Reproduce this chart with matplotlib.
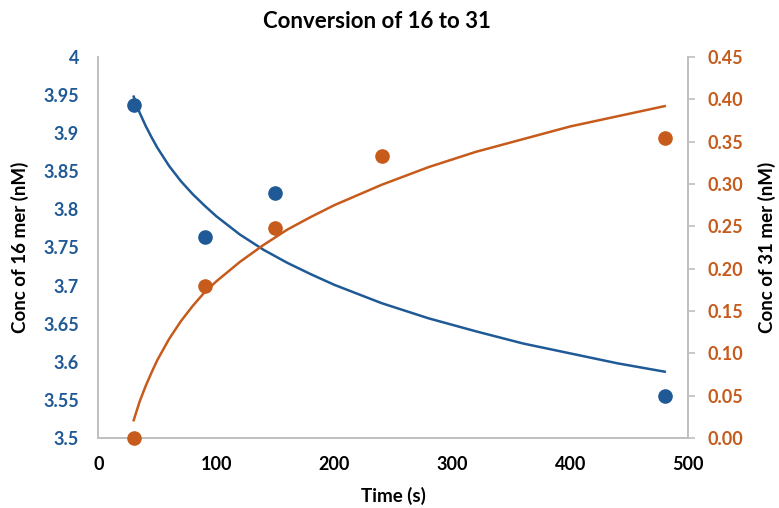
import matplotlib
matplotlib.use("Agg")
import matplotlib.pyplot as plt

# measured points
t_16 = [30, 90, 150, 480]
c_16 = [3.937, 3.764, 3.822, 3.555]
t_31 = [30, 90, 150, 240, 480]
c_31 = [0.000, 0.179, 0.248, 0.333, 0.354]

# trendlines
t_fit = [30, 35, 40, 45, 50, 60, 70, 80, 90, 100, 120, 140, 160, 180, 200,
         240, 280, 320, 360, 400, 440, 480]
fit_16 = [3.948, 3.927, 3.910, 3.895, 3.881, 3.857, 3.837, 3.820, 3.805, 3.791, 3.767,
          3.747, 3.730, 3.715, 3.701, 3.677, 3.657, 3.640, 3.624, 3.611, 3.598, 3.587]
fit_31 = [0.021, 0.043, 0.061, 0.077, 0.092, 0.117, 0.138, 0.156, 0.172, 0.185, 0.208,
          0.228, 0.246, 0.261, 0.275, 0.299, 0.320, 0.338, 0.353, 0.368, 0.380, 0.392]

left_ticks = [3.5, 3.55, 3.6, 3.65, 3.7, 3.75, 3.8, 3.85, 3.9, 3.95, 4]
left_labels = ["3.5", "3.55", "3.6", "3.65", "3.7", "3.75", "3.8", "3.85", "3.9", "3.95", "4"]
right_ticks = [0.0, 0.05, 0.10, 0.15, 0.20, 0.25, 0.30, 0.35, 0.40, 0.45]
x_ticks = [0, 100, 200, 300, 400, 500]

BLUE = "#1F5A96"
ORANGE = "#C65B1C"
GRID = "#BFBFBF"
plt.rcParams["font.family"] = ["Lato", "DejaVu Sans"]
plt.rcParams["font.weight"] = "bold"

fig = plt.figure(figsize=(7.79, 5.08), dpi=100)
ax = fig.add_axes([0.1262, 0.1378, 0.7574, 0.75])
ax2 = ax.twinx()

ax.plot(t_fit, fit_16, color=BLUE, lw=1.8, zorder=2)
ax.plot(t_16, c_16, "o", color=BLUE, ms=9.5, zorder=3)
ax2.plot(t_fit, fit_31, color=ORANGE, lw=1.8, zorder=2)
ax2.plot(t_31, c_31, "o", color=ORANGE, ms=9.5, zorder=3, clip_on=False)

ax.set_xlim(0, 500); ax.set_ylim(3.5, 4.0)
ax2.set_ylim(0, 0.45)
ax.set_xticks(x_ticks)
ax.set_yticks(left_ticks, left_labels)
ax2.set_yticks(right_ticks, [f"{v:.2f}" for v in right_ticks])

for a in (ax, ax2):
    for s in a.spines.values():
        s.set_color(GRID); s.set_linewidth(1.2)
    a.spines["top"].set_visible(False)
ax.tick_params(axis="x", length=0, pad=13, labelsize=13, colors="black")
ax.tick_params(axis="y", length=0, pad=14, labelsize=13, labelcolor=BLUE)
ax2.tick_params(axis="y", length=5, width=1.2, color=GRID, pad=9, labelsize=13, labelcolor=ORANGE)
for lab in ax.get_xticklabels() + ax.get_yticklabels() + ax2.get_yticklabels():
    lab.set_fontweight("bold")

ax.set_xlabel("Time (s)", fontsize=13.5, fontweight="bold", labelpad=10)
ax.set_ylabel("Conc of 16 mer (nM)", fontsize=13.5, fontweight="bold", labelpad=10)
ax2.set_ylabel("Conc of 31 mer (nM)", fontsize=13.5, fontweight="bold", labelpad=10)
fig.text(377 / 779, 1 - 22 / 508, "Conversion of 16 to 31", ha="center", va="center",
         fontsize=16, fontweight="bold")

fig.savefig("out.png", dpi=100)
